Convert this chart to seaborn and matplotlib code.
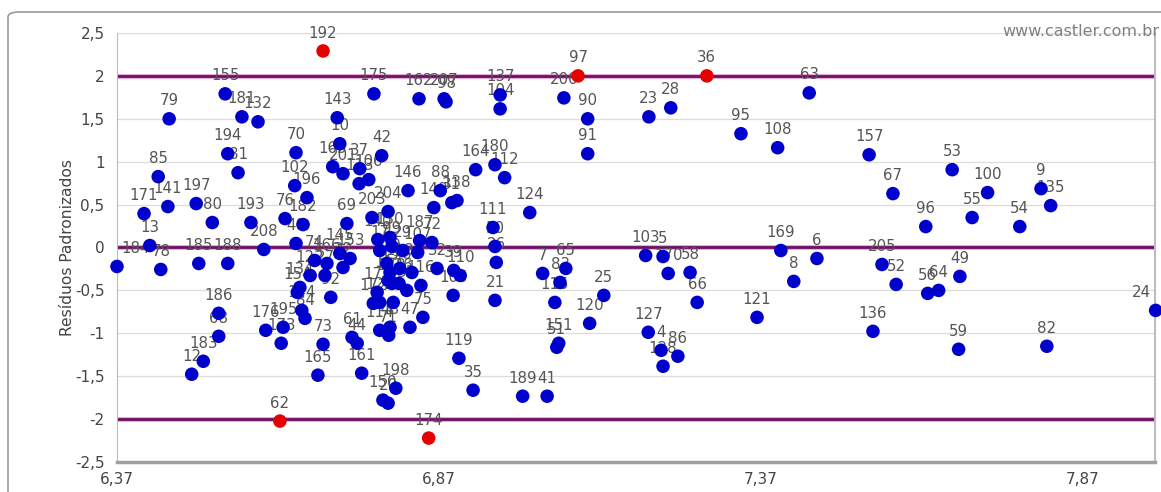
import matplotlib
matplotlib.use("Agg")
import matplotlib.pyplot as plt
from matplotlib.patches import FancyBboxPatch
from matplotlib.ticker import FuncFormatter, FixedLocator
import pandas as pd
import seaborn as sns

# Observation ids, fitted values and standardized residuals
obs_ids = [
    "184", "13", "78", "185", "188", "208", "171", "141", "85", "79",
    "197", "80", "155", "181", "132", "194", "81", "193", "186", "68",
    "183", "12", "62", "70", "102", "196", "76", "182", "69", "143",
    "10", "163", "201", "37", "106", "113", "42", "175", "192", "162",
    "207", "98", "137", "104", "146", "88", "138", "31", "148", "164",
    "180", "112", "124", "111", "50", "26", "21", "204", "203", "140",
    "187", "72", "107", "130", "17", "99", "29", "210", "15", "118",
    "60", "117", "178", "126", "33", "116", "32", "39", "110", "105",
    "177", "172", "125", "57", "75", "47", "114", "48", "71", "150",
    "20", "198", "40", "74", "166", "145", "153", "22", "122", "27",
    "134", "154", "92", "144", "84", "195", "176", "173", "73", "165",
    "61", "44", "161", "119", "35", "174", "7", "65", "83", "115",
    "151", "51", "120", "25", "189", "41", "200", "97", "90", "91",
    "23", "28", "36", "95", "108", "63", "103", "5", "170", "58",
    "66", "127", "4", "86", "128", "121", "169", "8", "6", "157",
    "67", "53", "100", "55", "96", "54", "9", "135", "205", "52",
    "56", "64", "49", "136", "59", "82", "24",
]

fitted = [
    6.370, 6.421, 6.438, 6.497, 6.542, 6.598, 6.412, 6.449, 6.434, 6.451,
    6.493, 6.518, 6.538, 6.564, 6.589, 6.542, 6.558, 6.578, 6.528, 6.528,
    6.504, 6.486, 6.623, 6.648, 6.646, 6.665, 6.631, 6.659, 6.727, 6.712,
    6.716, 6.705, 6.721, 6.747, 6.761, 6.746, 6.781, 6.769, 6.690, 6.839,
    6.878, 6.881, 6.965, 6.965, 6.822, 6.872, 6.898, 6.890, 6.862, 6.927,
    6.957, 6.972, 7.011, 6.954, 6.957, 6.959, 6.957, 6.791, 6.766, 6.775,
    6.840, 6.859, 6.837, 6.794, 6.778, 6.797, 6.814, 6.789, 6.794, 6.809,
    6.828, 6.791, 6.797, 6.808, 6.820, 6.842, 6.867, 6.893, 6.903, 6.892,
    6.774, 6.768, 6.778, 6.799, 6.845, 6.825, 6.778, 6.794, 6.792, 6.783,
    6.791, 6.803, 6.648, 6.677, 6.696, 6.716, 6.732, 6.721, 6.670, 6.693,
    6.654, 6.650, 6.702, 6.657, 6.662, 6.628, 6.601, 6.625, 6.690, 6.682,
    6.735, 6.743, 6.750, 6.901, 6.923, 6.854, 7.031, 7.067, 7.058, 7.050,
    7.056, 7.053, 7.104, 7.126, 7.000, 7.038, 7.064, 7.086, 7.101, 7.101,
    7.196, 7.230, 7.286, 7.339, 7.396, 7.445, 7.191, 7.218, 7.226, 7.260,
    7.271, 7.195, 7.215, 7.241, 7.218, 7.364, 7.401, 7.421, 7.457, 7.538,
    7.575, 7.667, 7.722, 7.698, 7.626, 7.772, 7.805, 7.820, 7.558, 7.580,
    7.629, 7.646, 7.679, 7.544, 7.677, 7.814, 7.983,
]

residuals = [
    -0.221, 0.023, -0.256, -0.186, -0.186, -0.023, 0.395, 0.477, 0.826, 1.500,
    0.512, 0.291, 1.791, 1.523, 1.465, 1.093, 0.872, 0.291, -0.767, -1.035,
    -1.326, -1.477, -2.023, 1.105, 0.721, 0.581, 0.337, 0.267, 0.279, 1.512,
    1.209, 0.942, 0.860, 0.919, 0.791, 0.744, 1.070, 1.791, 2.291, 1.733,
    1.733, 1.698, 1.779, 1.616, 0.663, 0.663, 0.547, 0.523, 0.465, 0.907,
    0.965, 0.814, 0.407, 0.233, 0.012, -0.174, -0.616, 0.419, 0.349, 0.093,
    0.081, 0.058, -0.058, 0.116, -0.035, 0.012, -0.035, -0.186, -0.291, -0.244,
    -0.291, -0.384, -0.419, -0.419, -0.500, -0.442, -0.244, -0.267, -0.326, -0.558,
    -0.523, -0.651, -0.640, -0.640, -0.814, -0.930, -0.965, -0.930, -1.023, -1.779,
    -1.814, -1.640, 0.047, -0.151, -0.186, -0.070, -0.128, -0.233, -0.326, -0.326,
    -0.465, -0.523, -0.581, -0.733, -0.826, -0.930, -0.965, -1.116, -1.128, -1.488,
    -1.047, -1.116, -1.465, -1.291, -1.663, -2.221, -0.302, -0.244, -0.407, -0.640,
    -1.116, -1.163, -0.884, -0.558, -1.733, -1.733, 1.744, 2.000, 1.500, 1.093,
    1.523, 1.628, 2.000, 1.326, 1.163, 1.802, -0.093, -0.105, -0.302, -0.291,
    -0.640, -0.988, -1.198, -1.267, -1.384, -0.814, -0.035, -0.395, -0.128, 1.081,
    0.628, 0.907, 0.640, 0.349, 0.244, 0.244, 0.686, 0.488, -0.198, -0.430,
    -0.535, -0.500, -0.337, -0.977, -1.186, -1.151, -0.733,
]

x_ticks = [6.37, 6.87, 7.37, 7.87]
y_ticks = [-2.5, -2, -1.5, -1, -0.5, 0, 0.5, 1, 1.5, 2, 2.5]
ref_lines = [-2, 0, 2]
y_title = "Resíduos Padronizados"
credit = "www.castler.com.br"

X_MIN, X_MAX = 6.37, 7.982

df = pd.DataFrame({"obs": obs_ids, "fitted": fitted, "resid": residuals})
df["outlier"] = df["resid"].abs() >= 2

sns.set_style("white")
plt.rcParams["font.family"] = ["DejaVu Sans"]

fig = plt.figure(figsize=(11.61, 4.92), dpi=100)
ax = fig.add_axes([117 / 1161, 1 - 462 / 492, (1155 - 117) / 1161, (462 - 33) / 492])

# outer chart frame
frame = FancyBboxPatch((8 / 1161, -0.05), 1.2, 1 - 12 / 492 + 0.05,
                       boxstyle="round,pad=0,rounding_size=0.01",
                       transform=fig.transFigure, facecolor="white",
                       edgecolor="#9a9a9a", linewidth=1.2, zorder=-10)
fig.patches.append(frame)

ax.set_xlim(X_MIN, X_MAX)
ax.set_ylim(-2.5, 2.5)

# grid
for v in y_ticks:
    ax.axhline(v, color="#dcdcdc", lw=0.9, zorder=0)

for v in ref_lines:
    ax.axhline(v, color="#d070c0", lw=3.6, zorder=1, alpha=0.6)
    ax.axhline(v, color="#6e0f66", lw=2.0, zorder=1)

# value labels above points, kept inside the plotting area at the edges
span = X_MAX - X_MIN
for _, r in df.iterrows():
    ha, dx = "center", 0
    if r["fitted"] - X_MIN < 0.012 * span:
        ha, dx = "left", 3
    elif X_MAX - r["fitted"] < 0.012 * span:
        ha, dx = "right", -3
    ax.annotate(r["obs"], (r["fitted"], r["resid"]), xytext=(dx, 7.5),
                textcoords="offset points", ha=ha, va="bottom",
                fontsize=10.8, color="#555555", zorder=3,
                annotation_clip=False)

sns.scatterplot(data=df, x="fitted", y="resid", hue="outlier",
                palette={False: "#0000cc", True: "#e60000"},
                s=95, edgecolor="none", linewidth=0, legend=False,
                ax=ax, zorder=4, clip_on=False)

ax.xaxis.set_major_locator(FixedLocator(x_ticks))
ax.yaxis.set_major_locator(FixedLocator(y_ticks))
ax.xaxis.set_major_formatter(FuncFormatter(lambda v, p: f"{v:.2f}".replace(".", ",")))
ax.yaxis.set_major_formatter(FuncFormatter(lambda v, p: f"{v:g}".replace(".", ",")))
ax.tick_params(axis="both", labelsize=11, labelcolor="#444444", length=4,
               width=0.8, direction="out", color="#bbbbbb")
ax.tick_params(axis="y", length=3, pad=6)
ax.set_xlabel("")
ax.set_ylabel(y_title, fontsize=11.2, color="#444444")
ax.yaxis.set_label_coords(-42 / 1038, 0.5)

ax.spines["top"].set_visible(False)
ax.spines["left"].set_color("#bbbbbb")
ax.spines["right"].set_color("#bdbdbd")
ax.spines["right"].set_linewidth(1.5)
ax.spines["bottom"].set_color("#a0a0a0")
ax.spines["bottom"].set_linewidth(2.5)

fig.text(1159 / 1161, 1 - 32 / 492, credit, ha="right", va="center",
         fontsize=11.5, color="#808080")

fig.savefig("out.png", dpi=100, facecolor="white")
